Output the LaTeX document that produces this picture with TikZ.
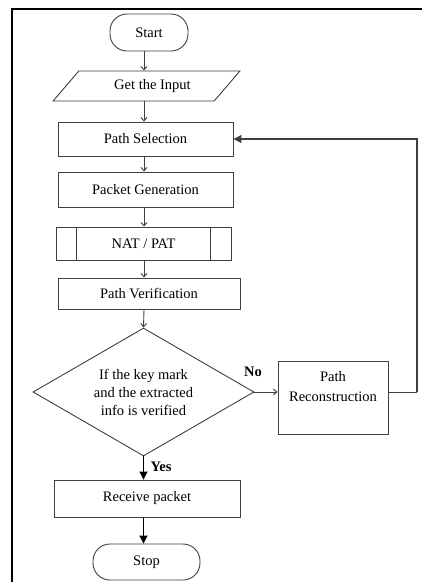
\documentclass[tikz,border=0pt]{standalone}
\usepackage{fontspec}
\setmainfont{Liberation Serif}
\usetikzlibrary{shapes.geometric,arrows.meta}
\begin{document}
\begin{tikzpicture}[x=1pt,y=-1pt,
  every node/.style={font=\fontsize{14.5}{18}\selectfont},
  box/.style={draw=black!75,line width=0.9pt,rectangle,inner sep=0pt},
  term/.style={box,rounded corners=17pt},
  io/.style={draw=black!75,line width=0.9pt,trapezium,trapezium left angle=38,trapezium right angle=142,trapezium stretches=true,inner sep=0pt},
  dia/.style={draw=black!75,line width=0.9pt,diamond,aspect=1.7,inner sep=0pt,align=center},
  thin/.style={draw=black!75,line width=0.9pt,-{Straight Barb[length=3.5pt,width=6pt]}},
  thick/.style={draw=black,line width=1.1pt,-{Triangle[length=8pt,width=8pt]}},
  lbl/.style={font=\fontsize{14.5}{18}\selectfont\bfseries}]
\useasboundingbox (0,0) rectangle (422,582);
\fill[white] (0,0) rectangle (422,582);
% frame
\draw[black,line width=2pt] (12,582) -- (12,9);
\draw[black,line width=1.5pt] (11,9) -- (422,9);
% nodes
\node[term,minimum width=78pt,minimum height=37pt] (start) at (149,32.5) {Start};
\node[io,minimum width=187pt,minimum height=30pt] (input) at (146.5,86) {\hspace*{12pt}Get the Input};
\node[box,minimum width=175pt,minimum height=34pt] (sel) at (145.5,139) {Path Selection};
\node[box,minimum width=175pt,minimum height=35pt] (gen) at (145.5,189.5) {Packet Generation};
\node[box,minimum width=175pt,minimum height=33pt] (nat) at (143.5,243.5) {NAT / PAT};
\draw[draw=black!75,line width=0.9pt] ([xshift=21pt]nat.north west) -- ([xshift=21pt]nat.south west);
\draw[draw=black!75,line width=0.9pt] ([xshift=-21pt]nat.north east) -- ([xshift=-21pt]nat.south east);
\node[box,minimum width=182pt,minimum height=31pt] (ver) at (149,293.5) {Path Verification};
\node[dia,minimum width=221pt,minimum height=128pt] (dec) at (143.5,392) {If the key mark\\and the extracted\\info is verified};
\node[box,minimum width=110pt,minimum height=73pt] (rec) at (333,397.5) {};
\node[align=center,inner sep=0pt,font=\fontsize{14.5}{20}\selectfont] (rect) at (333,387) {Path\\Reconstruction};
\node[box,minimum width=186pt,minimum height=37pt] (recv) at (147,498.5) {Receive packet};
\node[term,minimum width=107pt,minimum height=36pt] (stop) at (146.5,562) {Stop};
\node[lbl,inner sep=0pt] (no) at (253,372) {No};
\node[lbl,inner sep=0pt] (yes) at (161,467) {Yes};
% connectors
\coordinate (ax) at (144,0);
\coordinate (fb) at (417,392);
\draw[thin] (ax |- start.south) -- (ax |- input.north);
\draw[thin] (ax |- input.south) -- (ax |- sel.north);
\draw[thin] (ax |- sel.south) -- (ax |- gen.north);
\draw[thin] (ax |- gen.south) -- (ax |- nat.north);
\draw[thin] (ax |- nat.south) -- (ax |- ver.north);
\draw[thin] (ax |- ver.south) -- (dec.north);
\draw[thin] (dec.east) -- (dec.east -| rec.west);
\draw[thick] (dec.south) -- (dec.south |- recv.north);
\draw[thick] (dec.south |- recv.south) -- (dec.south |- stop.north);
\draw[draw=black!75,line width=0.9pt] (dec.east -| rec.east) -- (fb);
\draw[thick,draw=black!75] (fb) |- (sel.east);
\end{tikzpicture}
\end{document}
